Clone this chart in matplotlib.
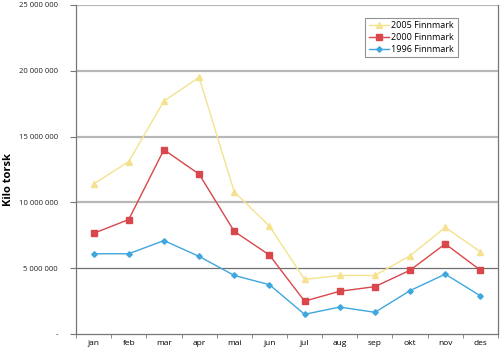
import matplotlib.pyplot as plt

months = ['jan', 'feb', 'mar', 'apr', 'mai', 'jun', 'jul', 'aug', 'sep', 'okt', 'nov', 'des']
finn_2005 = [11.4e6, 13.1e6, 17.7e6, 19.5e6, 10.8e6, 8.2e6, 4.15e6, 4.45e6, 4.45e6, 5.95e6, 8.1e6, 6.25e6]
finn_2000 = [7.65e6, 8.7e6, 14.0e6, 12.15e6, 7.8e6, 6.0e6, 2.5e6, 3.25e6, 3.6e6, 4.85e6, 6.85e6, 4.85e6]
finn_1996 = [6.1e6, 6.1e6, 7.1e6, 5.9e6, 4.45e6, 3.75e6, 1.5e6, 2.05e6, 1.65e6, 3.3e6, 4.55e6, 2.9e6]
yticks = [0, 5e6, 10e6, 15e6, 20e6, 25e6]
ylabels = ['-', '5 000 000', '10 000 000', '15 000 000', '20 000 000', '25 000 000']

plt.rcParams['font.family'] = ['Open Sans', 'DejaVu Sans']

fig = plt.figure(figsize=(5, 3.52), dpi=100)
ax = fig.add_axes([0.152, 0.051, 0.844, 0.935])
x = list(range(len(months)))

# gridlines: light thick ones, 5M is darker
for v in yticks[2:]:
    ax.axhline(v, color='#b8b8b8', lw=1.6, zorder=0)
ax.axhline(5e6, color='#707070', lw=0.9, zorder=0)

ax.plot(x, finn_2005, color='#f5e28e', marker='^', ms=4, lw=1, label='2005 Finnmark')
ax.plot(x, finn_2000, color='#d9464c', marker='s', ms=4, lw=1, label='2000 Finnmark')
ax.plot(x, finn_1996, color='#3ea7de', marker='D', ms=2.8, lw=1, label='1996 Finnmark')

ax.set_xlim(-0.5, 11.5)
ax.set_ylim(0, 25e6)
ax.set_xticks(x)
ax.set_xticklabels(months, fontsize=6)
ax.set_xticks([i + 0.5 for i in range(-1, 12)], minor=True)
ax.tick_params(axis='x', which='major', length=0, pad=4)
ax.tick_params(axis='x', which='minor', length=3, color='#777777', direction='out')
ax.set_yticks(yticks)
ax.set_yticklabels(ylabels, fontsize=5.5, color='#222222')
ax.tick_params(axis='y', length=4, color='#777777', pad=9)
ax.set_ylabel('Kilo torsk', fontsize=8, fontweight='bold')
ax.yaxis.set_label_coords(-0.148, 0.47)

for s in ['left', 'bottom', 'right']:
    ax.spines[s].set_color('#777777')
    ax.spines[s].set_linewidth(0.9)
ax.spines['top'].set_visible(False)

leg = ax.legend(loc='upper right', bbox_to_anchor=(0.915, 0.975), fontsize=6.5,
                fancybox=False, edgecolor='#777777', handlelength=2.2,
                borderpad=0.4, labelspacing=0.3, handletextpad=0.3)
leg.get_frame().set_linewidth(0.8)

fig.savefig('out.png', dpi=100)
